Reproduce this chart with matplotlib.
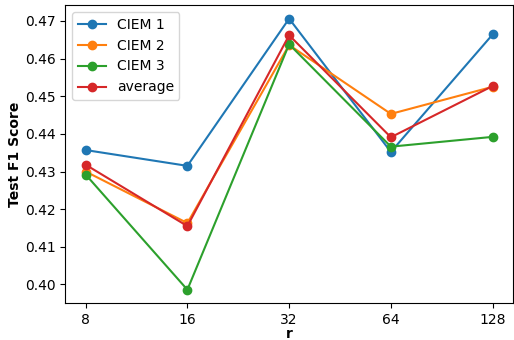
import numpy as np
import matplotlib
matplotlib.use("Agg")
import matplotlib.pyplot as plt

# rank values on the x axis (shown as evenly spaced categories)
r_values = ["8", "16", "32", "64", "128"]

ciem1 = [0.4357, 0.4315, 0.4706, 0.4352, 0.4664]
ciem2 = [0.4300, 0.4163, 0.4636, 0.4453, 0.4525]
ciem3 = [0.4292, 0.3986, 0.4638, 0.4366, 0.4392]
average = [0.4318, 0.4155, 0.4662, 0.4391, 0.4527]

fig, ax = plt.subplots(figsize=(5.14, 3.4), dpi=100)
fig.subplots_adjust(left=0.127, right=0.998, top=0.985, bottom=0.108)

x = np.arange(len(r_values))
ax.plot(x, ciem1, marker='o', label='CIEM 1')
ax.plot(x, ciem2, marker='o', label='CIEM 2')
ax.plot(x, ciem3, marker='o', label='CIEM 3')
ax.plot(x, average, marker='o', label='average')

ax.set_xticks(x)
ax.set_xticklabels(r_values)
ax.set_xlabel('r', fontweight='bold', labelpad=0)
ax.set_ylabel('Test F1 Score', fontweight='bold', labelpad=2)

ax.legend(loc='upper left')

fig.savefig('out.png', dpi=100)
